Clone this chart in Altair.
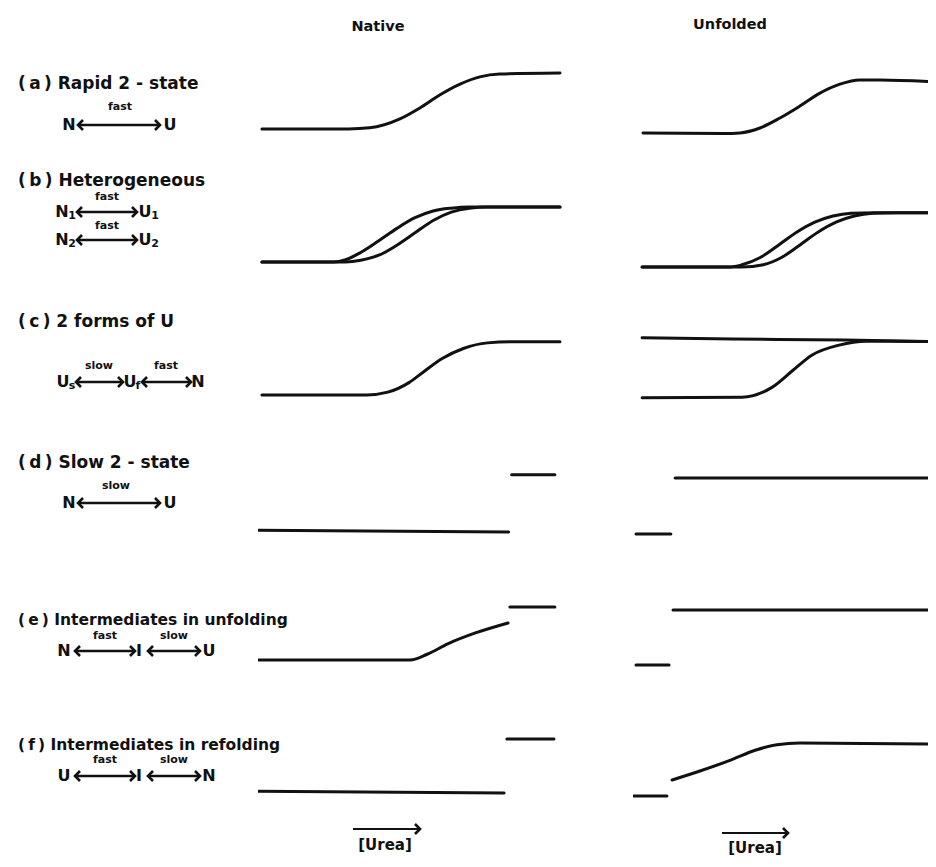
import altair as alt
import pandas as pd

# ---------------- values ----------------
# urea: position along each panel's [Urea] axis (0..1)
# signal: 0 = native-state baseline, 1 = plateau level of the panel
NAT_A_UREA = [0.013, 0.30, 0.37, 0.47, 0.536, 0.603, 0.669, 0.735, 0.80, 1.0]
NAT_A_SIG = [0.0, 0.0, 0.02, 0.18, 0.375, 0.61, 0.80, 0.93, 0.98, 1.0]

NAT_B1_UREA = [0.013, 0.25, 0.29, 0.34, 0.40, 0.46, 0.52, 0.58, 0.64, 0.70, 1.0]
NAT_B1_SIG = [0.0, 0.0, 0.04, 0.17, 0.38, 0.60, 0.79, 0.91, 0.96, 0.98, 0.98]
NAT_B2_UREA = [0.013, 0.29, 0.34, 0.40, 0.46, 0.52, 0.58, 0.64, 0.70, 0.76, 1.0]
NAT_B2_SIG = [0.0, 0.0, 0.03, 0.12, 0.30, 0.52, 0.74, 0.89, 0.96, 0.98, 0.98]

NAT_C_UREA = [0.013, 0.36, 0.43, 0.50, 0.55, 0.61, 0.68, 0.76, 0.85, 1.0]
NAT_C_SIG = [0.0, 0.0, 0.05, 0.22, 0.42, 0.65, 0.83, 0.93, 0.95, 0.95]

NAT_D_LOW_UREA = [0.0, 0.83]
NAT_D_LOW_SIG = [-0.04, -0.07]
NAT_D_HIGH_UREA = [0.84, 0.983]
NAT_D_HIGH_SIG = [0.95, 0.95]

NAT_E_LOW_UREA = [0.0, 0.503, 0.56, 0.63, 0.72, 0.828]
NAT_E_LOW_SIG = [0.017, 0.017, 0.12, 0.31, 0.50, 0.678]
NAT_E_HIGH_UREA = [0.834, 0.983]
NAT_E_HIGH_SIG = [0.964, 0.964]

NAT_F_LOW_UREA = [0.0, 0.815]
NAT_F_LOW_SIG = [0.05, 0.017]
NAT_F_HIGH_UREA = [0.824, 0.98]
NAT_F_HIGH_SIG = [0.98, 0.98]

UNF_A_UREA = [0.033, 0.30, 0.353, 0.419, 0.485, 0.551, 0.617, 0.683, 0.749, 0.815, 1.0]
UNF_A_SIG = [-0.07, -0.08, -0.07, 0.017, 0.196, 0.41, 0.64, 0.80, 0.875, 0.875, 0.84]

UNF_B1_UREA = [0.03, 0.32, 0.36, 0.42, 0.48, 0.54, 0.60, 0.66, 0.72, 0.80, 1.0]
UNF_B1_SIG = [-0.09, -0.09, -0.05, 0.08, 0.30, 0.53, 0.71, 0.82, 0.87, 0.88, 0.88]
UNF_B2_UREA = [0.03, 0.36, 0.43, 0.49, 0.55, 0.61, 0.67, 0.73, 0.79, 0.87, 1.0]
UNF_B2_SIG = [-0.09, -0.09, -0.05, 0.08, 0.30, 0.53, 0.71, 0.82, 0.87, 0.88, 0.88]

UNF_C_TOP_UREA = [0.03, 0.33, 0.70, 1.0]
UNF_C_TOP_SIG = [1.02, 1.0, 0.98, 0.95]
UNF_C_LOW_UREA = [0.03, 0.36, 0.46, 0.53, 0.59, 0.68, 0.77, 0.85, 1.0]
UNF_C_LOW_SIG = [-0.05, -0.04, 0.14, 0.45, 0.71, 0.89, 0.96, 0.96, 0.95]

UNF_D_LOW_UREA = [0.01, 0.125]
UNF_D_LOW_SIG = [-0.11, -0.11]
UNF_D_HIGH_UREA = [0.139, 1.0]
UNF_D_HIGH_SIG = [0.89, 0.89]

UNF_E_LOW_UREA = [0.01, 0.119]
UNF_E_LOW_SIG = [-0.07, -0.07]
UNF_E_HIGH_UREA = [0.132, 1.0]
UNF_E_HIGH_SIG = [0.91, 0.91]

UNF_F_LOW_UREA = [0.0, 0.112]
UNF_F_LOW_SIG = [-0.036, -0.036]
UNF_F_CURVE_UREA = [0.129, 0.221, 0.32, 0.403, 0.475, 0.551, 1.0]
UNF_F_CURVE_SIG = [0.25, 0.41, 0.60, 0.78, 0.88, 0.91, 0.89]

SEGMENTS = [
    ("a", "native", "1", NAT_A_UREA, NAT_A_SIG),
    ("b", "native", "1", NAT_B1_UREA, NAT_B1_SIG),
    ("b", "native", "2", NAT_B2_UREA, NAT_B2_SIG),
    ("c", "native", "1", NAT_C_UREA, NAT_C_SIG),
    ("d", "native", "1", NAT_D_LOW_UREA, NAT_D_LOW_SIG),
    ("d", "native", "2", NAT_D_HIGH_UREA, NAT_D_HIGH_SIG),
    ("e", "native", "1", NAT_E_LOW_UREA, NAT_E_LOW_SIG),
    ("e", "native", "2", NAT_E_HIGH_UREA, NAT_E_HIGH_SIG),
    ("f", "native", "1", NAT_F_LOW_UREA, NAT_F_LOW_SIG),
    ("f", "native", "2", NAT_F_HIGH_UREA, NAT_F_HIGH_SIG),
    ("a", "unfolded", "1", UNF_A_UREA, UNF_A_SIG),
    ("b", "unfolded", "1", UNF_B1_UREA, UNF_B1_SIG),
    ("b", "unfolded", "2", UNF_B2_UREA, UNF_B2_SIG),
    ("c", "unfolded", "1", UNF_C_TOP_UREA, UNF_C_TOP_SIG),
    ("c", "unfolded", "2", UNF_C_LOW_UREA, UNF_C_LOW_SIG),
    ("d", "unfolded", "1", UNF_D_LOW_UREA, UNF_D_LOW_SIG),
    ("d", "unfolded", "2", UNF_D_HIGH_UREA, UNF_D_HIGH_SIG),
    ("e", "unfolded", "1", UNF_E_LOW_UREA, UNF_E_LOW_SIG),
    ("e", "unfolded", "2", UNF_E_HIGH_UREA, UNF_E_HIGH_SIG),
    ("f", "unfolded", "1", UNF_F_LOW_UREA, UNF_F_LOW_SIG),
    ("f", "unfolded", "2", UNF_F_CURVE_UREA, UNF_F_CURVE_SIG),
]

ROWS = ["a", "b", "c", "d", "e", "f"]
COLUMN_TITLES = ["Native", "Unfolded"]
CASE_TITLES = [
    "(\u2009a\u2009)  Rapid  2 - state",
    "(\u2009b\u2009)  Heterogeneous",
    "(\u2009c\u2009)  2  forms  of  U",
    "(\u2009d\u2009)  Slow  2 - state",
    "(\u2009e\u2009)  Intermediates in unfolding",
    "(\u2009f\u2009)  Intermediates in refolding",
]
SPECIES = ["N", "U", "N", "U", "N", "U", "U", "U", "N", "N", "U", "N", "I", "U", "U", "I", "N"]
SUBSCRIPTS = ["1", "1", "2", "2", "s", "f"]
RATES = ["fast", "fast", "fast", "slow", "fast", "slow", "fast", "slow", "fast", "slow"]
AXIS_LABEL = "[Urea]"

records = []
for row, side, seg, us, ss in SEGMENTS:
    for u, s in zip(us, ss):
        records.append({"row": row, "side": side, "seg": seg, "urea": u, "signal": s})
curves = pd.DataFrame(records)

# ---------------- layout (pixels) ----------------
INK = "#111111"
FONT = "DejaVu Sans"
W_LABEL, W_NAT_AXIS, GAP, W_UNF = 250, 302, 73, 295
UNF_PX_PER_UNIT = 303
H_HEAD = 42
ROW_H = [133, 133, 133, 133, 133, 118]
ROW_TOPS = [sum(ROW_H[:i]) for i in range(len(ROW_H))]
PX_PER_SIGNAL = 56.0
SIGNAL_TOP = 1.41

# label-column positions (x, y), y measured from the top of panel row (a)
CASE_POS = [(10, 34), (10, 131), (10, 272), (10, 413), (10, 570), (10, 695)]
SPECIES_POS = [(61, 75), (162, 75),
               (54, 162), (137, 162), (54, 190), (137, 190),
               (55, 332), (122, 332), (190, 332),
               (61, 453), (162, 453),
               (56, 601), (131, 601), (201, 601),
               (56, 726), (131, 726), (201, 726)]
SUB_POS = [(64, 166), (147, 166), (64, 194), (147, 194), (64, 336), (130, 336)]
RATE_POS = [(112, 57), (99, 147), (99, 176), (91, 316), (158, 316),
            (108, 436), (97, 586), (166, 586), (97, 710), (166, 710)]
ARROW_POS = [(70, 152, 75), (69, 129, 162), (69, 129, 190),
             (68, 115, 332), (134, 183, 332), (70, 152, 453),
             (67, 127, 601), (140, 192, 601), (67, 127, 726), (140, 192, 726)]

TEXT_GROUPS = [
    (CASE_TITLES[:4], CASE_POS[:4], 17, "bold", "left"),
    (CASE_TITLES[4:], CASE_POS[4:], 15.5, "bold", "left"),
    (SPECIES, SPECIES_POS, 16, "bold", "center"),
    (SUBSCRIPTS, SUB_POS, 11, "bold", "center"),
    (RATES, RATE_POS, 11, "bold", "center"),
]

RIGHT_HEAD = "M -1 -1 L 0 0 L -1 1"
LEFT_HEAD = "M 1 -1 L 0 0 L 1 1"
HEAD_SIZE = 100
ONE = pd.DataFrame({"k": [0]})


def px(field):
    return alt.X(field, type="quantitative", scale=None, axis=None)


def py(field):
    return alt.Y(field, type="quantitative", scale=None, axis=None)


def row_of(y):
    idx = 0
    for i, top in enumerate(ROW_TOPS):
        if y >= top:
            idx = i
    return idx


def label_cell(i):
    top, h = ROW_TOPS[i], ROW_H[i]
    layers = []
    for texts, pos, size, weight, align in TEXT_GROUPS:
        sel = [(t, x, y - top) for t, (x, y) in zip(texts, pos) if row_of(y) == i]
        if not sel:
            continue
        df = pd.DataFrame(sel, columns=["t", "x", "y"])
        layers.append(alt.Chart(df).mark_text(
            font=FONT, fontSize=size, fontWeight=weight, align=align,
            baseline="middle", color=INK).encode(x=px("x"), y=py("y"), text="t:N"))
    arr = [(a, b, y - top) for a, b, y in ARROW_POS if row_of(y) == i]
    if arr:
        df = pd.DataFrame(arr, columns=["x1", "x2", "y"])
        layers.append(alt.Chart(df).mark_rule(color=INK, strokeWidth=2.4).encode(
            x=px("x1"), x2="x2", y=py("y")))
        layers.append(alt.Chart(df).mark_point(
            shape=RIGHT_HEAD, filled=False, size=HEAD_SIZE, strokeWidth=2.6, color=INK,
            opacity=1).encode(x=px("x2"), y=py("y")))
        layers.append(alt.Chart(df).mark_point(
            shape=LEFT_HEAD, filled=False, size=HEAD_SIZE, strokeWidth=2.6, color=INK,
            opacity=1).encode(x=px("x1"), y=py("y")))
    return alt.layer(*layers).properties(width=W_LABEL, height=h)


def header_cell(text, x, y, width):
    return alt.Chart(ONE).mark_text(
        font=FONT, fontSize=14.5, fontWeight="bold", color=INK, baseline="middle"
    ).encode(x=alt.value(x), y=alt.value(y), text=alt.value(text)).properties(
        width=width, height=H_HEAD)


def urea_marker(x1, x2, y, tx, ty):
    shaft = alt.Chart(ONE).mark_rule(color=INK, strokeWidth=2.2).encode(
        x=alt.value(x1), x2=alt.value(x2), y=alt.value(y))
    head = alt.Chart(ONE).mark_point(shape=RIGHT_HEAD, filled=False, size=HEAD_SIZE,
                                     strokeWidth=2.6, color=INK, opacity=1).encode(
        x=alt.value(x2), y=alt.value(y))
    lab = alt.Chart(ONE).mark_text(font=FONT, fontSize=15, fontWeight="bold", color=INK,
                                   baseline="middle").encode(
        x=alt.value(tx), y=alt.value(ty), text=alt.value(AXIS_LABEL))
    return [shaft, head, lab]


def panel(row, side, height):
    if side == "native":
        width = W_NAT_AXIS + GAP
        xmax = width / W_NAT_AXIS
    else:
        width = W_UNF
        xmax = W_UNF / UNF_PX_PER_UNIT
    ydom = [SIGNAL_TOP - height / PX_PER_SIGNAL, SIGNAL_TOP]
    lines = alt.Chart(curves).transform_filter(
        (alt.datum.row == row) & (alt.datum.side == side)
    ).mark_line(interpolate="monotone", strokeWidth=3, color=INK, strokeCap="round",
                clip=True).encode(
        x=alt.X("urea:Q", scale=alt.Scale(domain=[0, xmax], nice=False, zero=False), axis=None),
        y=alt.Y("signal:Q", scale=alt.Scale(domain=ydom, nice=False, zero=False), axis=None),
        detail="seg:N",
    )
    layers = [lines]
    if row == "f":
        if side == "native":
            layers += urea_marker(95, 162, 114, 127, 130)
        else:
            layers += urea_marker(89, 155, 118, 122, 133)
    return alt.layer(*layers).properties(width=width, height=height)


cells = [
    header_cell(" ", 10, 20, W_LABEL),
    header_cell(COLUMN_TITLES[0], 120, 19, W_NAT_AXIS + GAP),
    header_cell(COLUMN_TITLES[1], 97, 17, W_UNF),
]
for i, (r, h) in enumerate(zip(ROWS, ROW_H)):
    cells += [label_cell(i), panel(r, "native", h), panel(r, "unfolded", h)]

chart = alt.concat(*cells, columns=3, spacing=0, bounds="flush", align="each").properties(
    padding=0, background="white"
).configure_view(stroke=None)

chart.save("out.html", embed_options={"renderer": "svg", "actions": False})
